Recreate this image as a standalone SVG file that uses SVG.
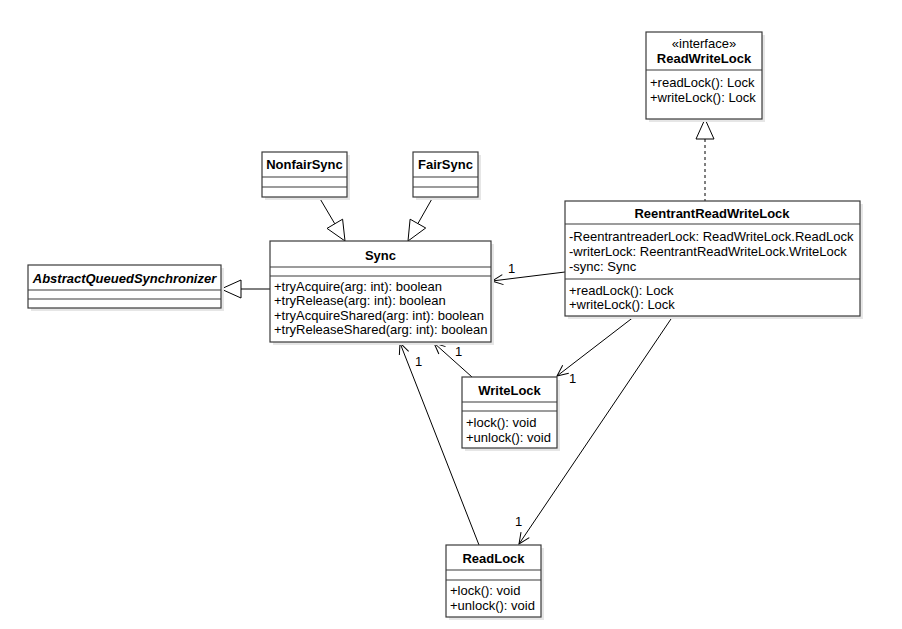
<svg xmlns="http://www.w3.org/2000/svg" width="902" height="629" viewBox="0 0 902 629">
<style>
.box{fill:#fff;stroke:#3a3a3a;stroke-width:1.2}
.sh{fill:#e6e6e6}
.sep{stroke:#3a3a3a;stroke-width:1.2}
text{font-family:"Liberation Sans",Arial,sans-serif;font-size:13px;fill:#000}
.t{font-weight:bold;text-anchor:middle}
.c{text-anchor:middle}
.ln{fill:none;stroke:#000;stroke-width:1}
.tri{fill:#fff;stroke:#000;stroke-width:1}
</style>
<defs>
<marker id="open" markerUnits="userSpaceOnUse" markerWidth="14" markerHeight="14" refX="12" refY="6" orient="auto" viewBox="0 0 14 12">
<path d="M1,1 L12,6 L1,11" fill="none" stroke="#000" stroke-width="1"/>
</marker>
</defs>
<rect width="902" height="629" fill="#fff"/>

<g id="connectors">
<line class="ln" x1="319" y1="197" x2="334.8" y2="223.8"/>
<polygon class="tri" points="345,241 327,228.4 342.6,219.2"/>
<line class="ln" x1="433" y1="197" x2="417.9" y2="223.6"/>
<polygon class="tri" points="408,241 410.1,219.2 425.7,228"/>
<line class="ln" x1="270" y1="289" x2="241" y2="289"/>
<polygon class="tri" points="221,289 241,280 241,298"/>
<line class="ln" x1="705" y1="139" x2="705" y2="201" stroke-dasharray="3,3"/>
<polygon class="tri" points="705,119 696,139 714,139"/>
<line class="ln" x1="565" y1="272" x2="492" y2="281" marker-end="url(#open)"/>
<text x="508" y="273">1</text>
<line class="ln" x1="635" y1="316" x2="557" y2="376" marker-end="url(#open)"/>
<text x="569" y="383">1</text>
<line class="ln" x1="673" y1="316" x2="519" y2="544" marker-end="url(#open)"/>
<text x="515" y="526">1</text>
<line class="ln" x1="472" y1="377" x2="434" y2="343" marker-end="url(#open)"/>
<text x="455" y="356">1</text>
<line class="ln" x1="479" y1="545" x2="400" y2="343" marker-end="url(#open)"/>
<text x="415" y="366">1</text>
</g>

<g id="ReadWriteLock">
<rect class="sh" x="649" y="35" width="116" height="87"/>
<rect class="box" x="646" y="32" width="116" height="87"/>
<text class="c" x="704" y="48">«interface»</text>
<text class="t" x="704" y="63">ReadWriteLock</text>
<line class="sep" x1="646" y1="70" x2="762" y2="70"/>
<text x="650" y="87">+readLock(): Lock</text>
<text x="650" y="102">+writeLock(): Lock</text>
</g>

<g id="ReentrantReadWriteLock">
<rect class="sh" x="568" y="204" width="295" height="115"/>
<rect class="box" x="565" y="201" width="295" height="115"/>
<text class="t" x="712" y="218">ReentrantReadWriteLock</text>
<line class="sep" x1="565" y1="224" x2="860" y2="224"/>
<text x="569" y="241">-ReentrantreaderLock: ReadWriteLock.ReadLock</text>
<text x="569" y="256">-writerLock: ReentrantReadWriteLock.WriteLock</text>
<text x="569" y="271">-sync: Sync</text>
<line class="sep" x1="565" y1="279" x2="860" y2="279"/>
<text x="569" y="295">+readLock(): Lock</text>
<text x="569" y="309">+writeLock(): Lock</text>
</g>

<g id="NonfairSync">
<rect class="sh" x="265" y="155" width="85" height="45"/>
<rect class="box" x="262" y="152" width="85" height="45"/>
<text class="t" x="304.5" y="169">NonfairSync</text>
<line class="sep" x1="262" y1="177" x2="347" y2="177"/>
<line class="sep" x1="262" y1="187" x2="347" y2="187"/>
</g>

<g id="FairSync">
<rect class="sh" x="416" y="155" width="65" height="45"/>
<rect class="box" x="413" y="152" width="65" height="45"/>
<text class="t" x="445.5" y="169">FairSync</text>
<line class="sep" x1="413" y1="177" x2="478" y2="177"/>
<line class="sep" x1="413" y1="187" x2="478" y2="187"/>
</g>

<g id="Sync">
<rect class="sh" x="273" y="244" width="221" height="101"/>
<rect class="box" x="270" y="241" width="221" height="101"/>
<text class="t" x="380.5" y="260">Sync</text>
<line class="sep" x1="270" y1="267" x2="491" y2="267"/>
<line class="sep" x1="270" y1="276" x2="491" y2="276"/>
<text x="274" y="291">+tryAcquire(arg: int): boolean</text>
<text x="274" y="305">+tryRelease(arg: int): boolean</text>
<text x="274" y="320">+tryAcquireShared(arg: int): boolean</text>
<text x="274" y="334">+tryReleaseShared(arg: int): boolean</text>
</g>

<g id="AbstractQueuedSynchronizer">
<rect class="sh" x="31" y="268" width="193" height="43"/>
<rect class="box" x="28" y="265" width="193" height="43"/>
<text class="t" x="124.5" y="283" font-style="italic">AbstractQueuedSynchronizer</text>
<line class="sep" x1="28" y1="290" x2="221" y2="290"/>
<line class="sep" x1="28" y1="299" x2="221" y2="299"/>
</g>

<g id="WriteLock">
<rect class="sh" x="465" y="380" width="95" height="71"/>
<rect class="box" x="462" y="377" width="95" height="71"/>
<text class="t" x="509.5" y="395">WriteLock</text>
<line class="sep" x1="462" y1="402" x2="557" y2="402"/>
<line class="sep" x1="462" y1="411" x2="557" y2="411"/>
<text x="466" y="427">+lock(): void</text>
<text x="466" y="442">+unlock(): void</text>
</g>

<g id="ReadLock">
<rect class="sh" x="449" y="548" width="95" height="72"/>
<rect class="box" x="446" y="545" width="95" height="72"/>
<text class="t" x="493.5" y="563">ReadLock</text>
<line class="sep" x1="446" y1="570" x2="541" y2="570"/>
<line class="sep" x1="446" y1="580" x2="541" y2="580"/>
<text x="450" y="595">+lock(): void</text>
<text x="450" y="610">+unlock(): void</text>
</g>
</svg>
